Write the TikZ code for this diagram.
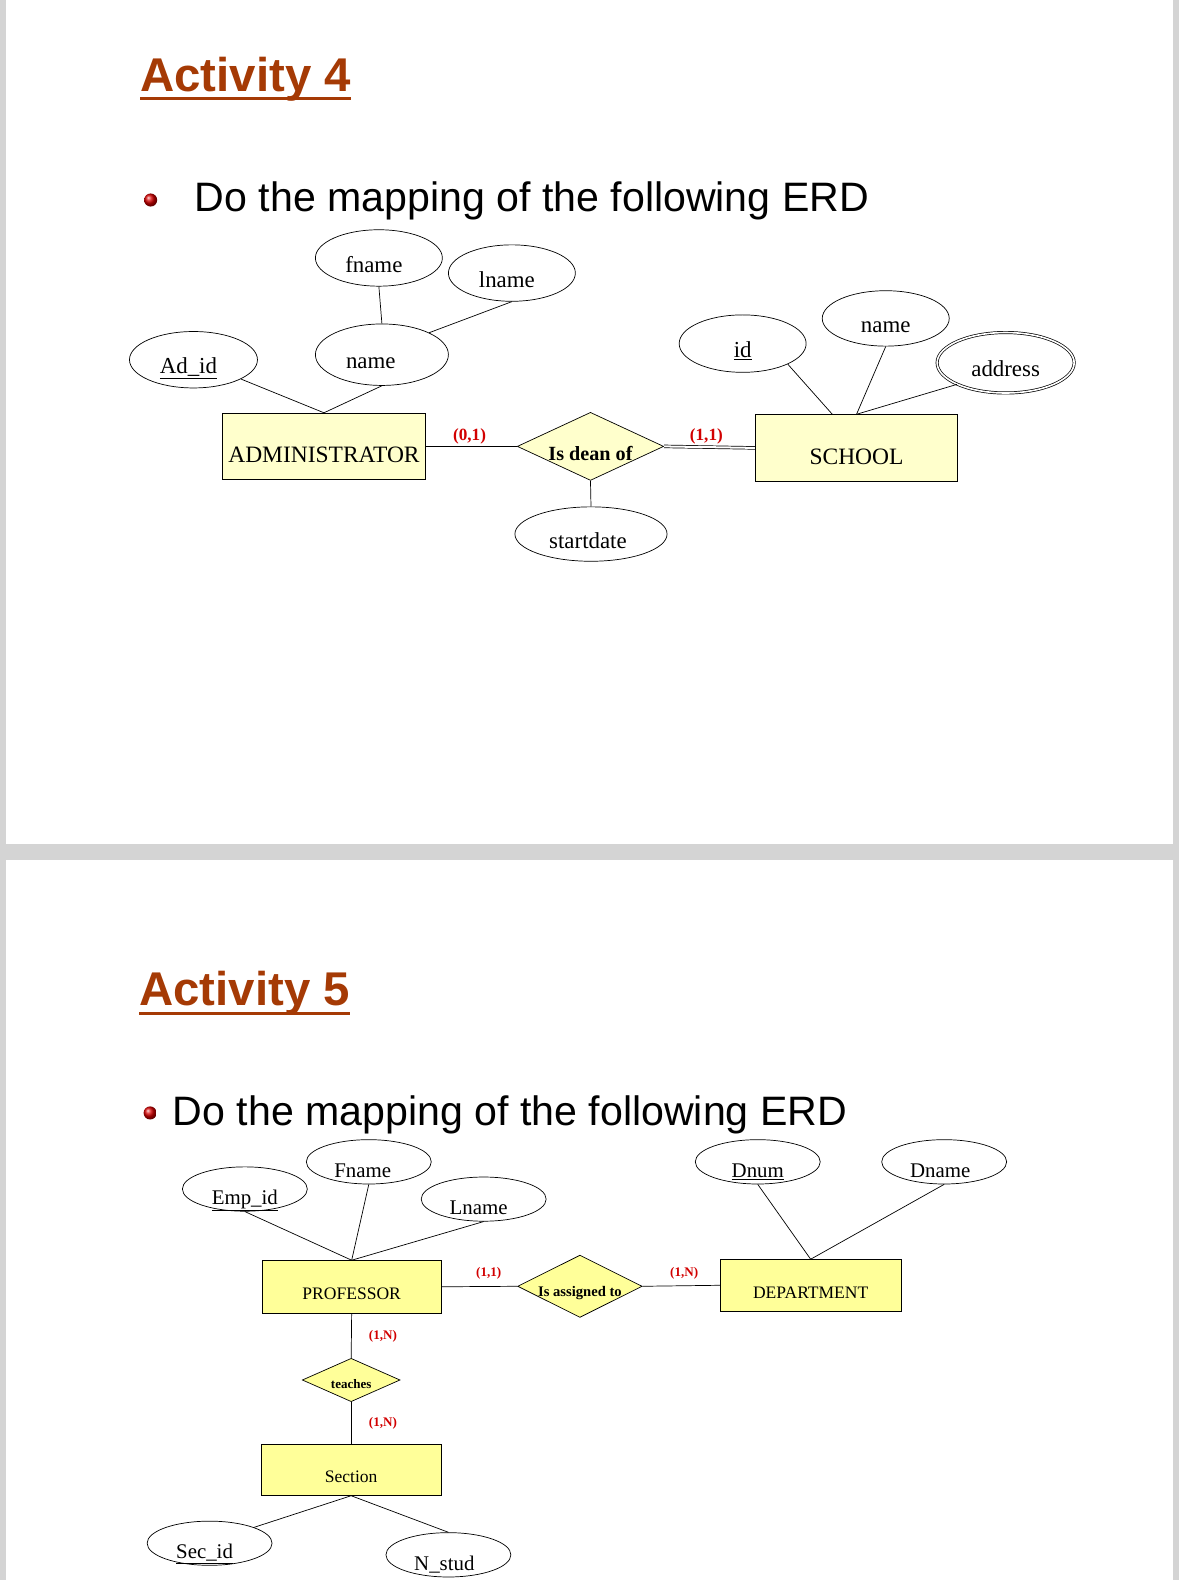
\documentclass[tikz,border=0pt]{standalone}
\usepackage{fontspec}
\setmainfont{Liberation Serif}
\newfontfamily\arialfont{Liberation Sans}
\usetikzlibrary{shapes.geometric}
\definecolor{titlebrown}{RGB}{165,58,5}
\definecolor{cardred}{RGB}{210,0,0}
\definecolor{paleyellow}{RGB}{255,255,204}
\definecolor{brightyellow}{RGB}{255,255,153}
\definecolor{pagegray}{RGB}{212,212,212}

\begin{document}
\begin{tikzpicture}[x=1pt,y=-1pt,line width=0.7pt,
	heading/.style={anchor=base west,inner sep=0pt,text=titlebrown,font=\arialfont\bfseries\fontsize{47}{50}\selectfont},
	bullettext/.style={anchor=base west,inner sep=0pt,font=\arialfont\fontsize{40.8}{44}\selectfont},
	bulletdot/.style={circle,inner sep=0pt,minimum size=13,ball color=red!85!black},
	nudge/.style={execute at end node={\hspace{#1pt}}},
	attrA/.style={draw,ellipse,inner sep=0pt,minimum width=126,minimum height=56,text height=28pt,text depth=0pt,font=\fontsize{22.7}{24}\selectfont},
	attrB/.style={draw,ellipse,inner sep=0pt,minimum width=124,minimum height=44,text height=31pt,text depth=0pt,font=\fontsize{20.7}{22}\selectfont},
	entA/.style={draw,fill=paleyellow,inner sep=0pt,minimum width=201,minimum height=66,text height=32.6pt,text depth=0pt,font=\fontsize{23.3}{25}\selectfont},
	entB/.style={draw,fill=brightyellow,inner sep=0pt,minimum width=179,minimum height=51,text height=26pt,text depth=0pt,font=\fontsize{17.4}{19}\selectfont},
	rel/.style={draw,diamond,inner sep=0pt,text depth=0pt},
	card/.style={text=cardred,inner sep=0pt,font=\fontsize{#1}{#1}\selectfont\bfseries}]
	\useasboundingbox (0,0) rectangle (1170,1568);
	\fill[pagegray] (0,0) rectangle (1170,1568);
	\fill[white] (6,0) rectangle (1164,837.5);
	\fill[white] (6,853.4) rectangle (1164,1568);
	
	\node[heading] (act4) at (139,91.3) {Activity 4};
	\draw[titlebrown,line width=3.5] ([yshift=-6.5]act4.base west) -- ([yshift=-6.5]act4.base east);
	\node[bulletdot] (dot4) at (149.5,198.5) {};
	\node[bullettext] (task4) at (193,209.4) {Do the mapping of the following ERD};
	
	\node[attrA,nudge=10] (fname) at (376,256) {fname};
	\node[attrA,nudge=10] (lname) at (508,271) {lname};
	\node[attrA,nudge=22,minimum width=132,minimum height=61] (name) at (379,352) {name};
	\node[attrA,nudge=10,minimum width=127] (adid) at (192,357) {\underline{Ad\_id}};
	\node[entA] (admin) at (321.5,443) {ADMINISTRATOR};
	\node[rel,fill=paleyellow,aspect=2.15,minimum width=142,minimum height=66,text height=28.8pt,font=\fontsize{20}{22}\selectfont\bfseries] (dean) at (586,443) {Is dean of};
	\node[entA] (school) at (850,444.5) {SCHOOL};
	\node[attrA,minimum height=57] (id) at (737,341) {\underline{id}};
	\node[attrA,minimum height=55] (sname) at (879,316) {name};
	\node[attrA,double,double distance=1.6pt,minimum width=136,minimum height=60] (address) at (998,360) {address};
	\node[attrA,nudge=6,minimum width=151,minimum height=54] (start) at (586.5,530) {startdate};
	\node[card=17] (c01) at (466,433) {(0,1)};
	\node[card=17] (c11) at (701,433) {(1,1)};
	
	\draw (fname.south) -- (name.north);
	\draw (lname.south) -- (name.north east);
	\draw (adid) -- (admin.north);
	\draw (name.south) -- (admin.north);
	\draw (admin.east) -- (dean.west);
	\draw[double,double distance=2pt] (dean.east) -- (school.west);
	\draw (dean.south) -- (start.north);
	\draw (id.south east) -- ([xshift=-24pt]school.north);
	\draw (sname.south) -- (school.north);
	\draw (address.south west) -- (school.north);
	
	\node[heading] (act5) at (138,998.3) {Activity 5};
	\draw[titlebrown,line width=3.5] ([yshift=-7.5]act5.base west) -- ([yshift=-7.5]act5.base east);
	\node[bulletdot] (dot5) at (149,1104.5) {};
	\node[bullettext] (task5) at (171.3,1117) {Do the mapping of the following ERD};
	
	\node[attrB,nudge=12] (fname2) at (366,1153) {Fname};
	\node[attrB] (empid) at (243,1180) {\underline{Emp\_id}};
	\node[attrB,nudge=10,minimum height=43] (lname2) at (480,1190) {Lname};
	\node[entB,minimum width=178,minimum height=52] (prof) at (349,1277) {PROFESSOR};
	\node[rel,fill=brightyellow,aspect=2,minimum width=121,minimum height=61,text height=20.3pt,font=\fontsize{14.5}{16}\selectfont\bfseries] (assigned) at (575.5,1276.5) {Is assigned to};
	\node[entB] (dept) at (804.5,1275.5) {DEPARTMENT};
	\node[attrB] (dnum) at (752,1153) {\underline{Dnum}};
	\node[attrB,nudge=8] (dname) at (937,1153) {Dname};
	\node[rel,fill=brightyellow,aspect=2.25,minimum width=97,minimum height=43,text height=16.5pt,font=\fontsize{12.9}{14}\selectfont\bfseries] (teaches) at (348.5,1369.5) {teaches};
	\node[entB] (section) at (348.5,1458.5) {Section};
	\node[attrB,nudge=10,minimum height=43] (secid) at (208,1531.5) {\underline{Sec\_id}};
	\node[attrB,nudge=8] (nstud) at (445,1543) {N\_stud};
	\node[card=13] (c11b) at (485,1264) {(1,1)};
	\node[card=13] (c1na) at (679,1264) {(1,N)};
	\node[card=13] (c1nb) at (380,1326) {(1,N)};
	\node[card=13] (c1nc) at (380,1413) {(1,N)};
	
	\draw (empid.south) -- (prof.north);
	\draw (fname2.south) -- (prof.north);
	\draw (lname2.south) -- (prof.north);
	\draw (prof.east) -- (assigned.west);
	\draw (assigned.east) -- (dept.west);
	\draw (dnum.south) -- (dept.north);
	\draw (dname.south) -- (dept.north);
	\draw (prof.south) -- (teaches.north);
	\draw (teaches.south) -- (section.north);
	\draw (section.south) -- (secid.north east);
	\draw (section.south) -- (nstud.north);
	
\end{tikzpicture}
\end{document}
